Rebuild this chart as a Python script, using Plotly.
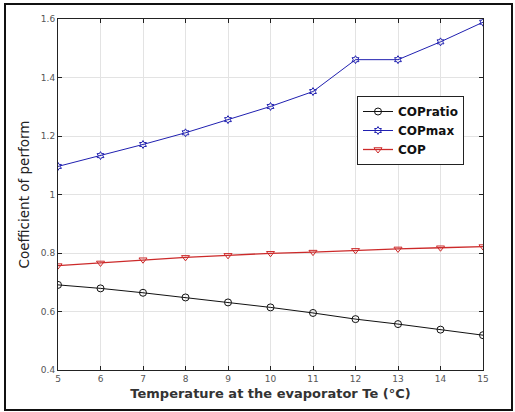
import plotly.graph_objects as go

temps = [5, 6, 7, 8, 9, 10, 11, 12, 13, 14, 15]
cop_ratio = [0.691, 0.679, 0.664, 0.648, 0.631, 0.614, 0.595, 0.574, 0.557, 0.538, 0.519]
cop_max = [1.096, 1.133, 1.171, 1.211, 1.256, 1.301, 1.352, 1.461, 1.461, 1.522, 1.589]
cop = [0.757, 0.766, 0.777, 0.785, 0.792, 0.799, 0.803, 0.809, 0.814, 0.818, 0.822]
y_ticks = [0.4, 0.6, 0.8, 1.0, 1.2, 1.4, 1.6]
y_tick_text = ["0.4", "0.6", "0.8", "1", "1.2", "1.4", "1.6"]

fig = go.Figure()
fig.add_trace(go.Scatter(x=temps, y=cop_ratio, name="COPratio", mode="lines+markers",
                         line=dict(color="#111111", width=1),
                         marker=dict(symbol="circle-open", size=7, color="#111111", line=dict(width=1))))
fig.add_trace(go.Scatter(x=temps, y=cop_max, name="COPmax", mode="lines+markers",
                         line=dict(color="#2020b0", width=1),
                         marker=dict(symbol="hexagram-open", size=6, color="#2020b0", line=dict(width=1))))
fig.add_trace(go.Scatter(x=temps, y=cop, name="COP", mode="lines+markers",
                         line=dict(color="#cc2a2a", width=1.3),
                         marker=dict(symbol="triangle-down-open", size=7, color="#cc2a2a", line=dict(width=1))))

W, H = 515, 412
L, R, T, B = 58, 32, 19, 42
pw, ph = W - L - R, H - T - B

def px(x):
    return (x - L) / pw

def py(y):
    return (H - B - y) / ph

fig.update_layout(
    width=W, height=H,
    margin=dict(l=L, r=R, t=T, b=B),
    paper_bgcolor="white", plot_bgcolor="white",
    font=dict(family="DejaVu Sans", color="#222222"),
    showlegend=True,
    legend=dict(x=px(357), y=py(96), xanchor="left", yanchor="top",
                bgcolor="white", bordercolor="#222222", borderwidth=1,
                font=dict(size=12, color="#111111", family="DejaVu Sans", weight="bold"),
                tracegroupgap=0, itemwidth=30),
    xaxis=dict(range=[5, 15], tickvals=temps, ticks="inside", ticklen=4,
               tickcolor="#222222", showgrid=True, gridcolor="#e3e3e3",
               showline=True, linecolor="#222222", linewidth=1, mirror="ticks",
               zeroline=False, tickfont=dict(size=9, color="#555555"),
               title=dict(text="Temperature at the evaporator Te (°C)", standoff=6,
                          font=dict(size=13, color="#333333", family="DejaVu Sans", weight="bold"))),
    yaxis=dict(range=[0.4, 1.6], tickvals=y_ticks, ticktext=y_tick_text,
               ticks="inside", ticklen=4, tickcolor="#222222",
               showgrid=True, gridcolor="#e3e3e3",
               showline=True, linecolor="#222222", linewidth=1, mirror="ticks",
               zeroline=False, tickfont=dict(size=9, color="#555555"),
               title=dict(text="Coefficient of perform", standoff=8,
                          font=dict(size=13.5, color="#222222", family="DejaVu Sans"))),
    shapes=[dict(type="rect", xref="paper", yref="paper",
                 x0=px(5), x1=px(512), y0=py(410), y1=py(4),
                 line=dict(color="#111111", width=2), fillcolor="rgba(0,0,0,0)")],
)

fig.write_html("out.html")
